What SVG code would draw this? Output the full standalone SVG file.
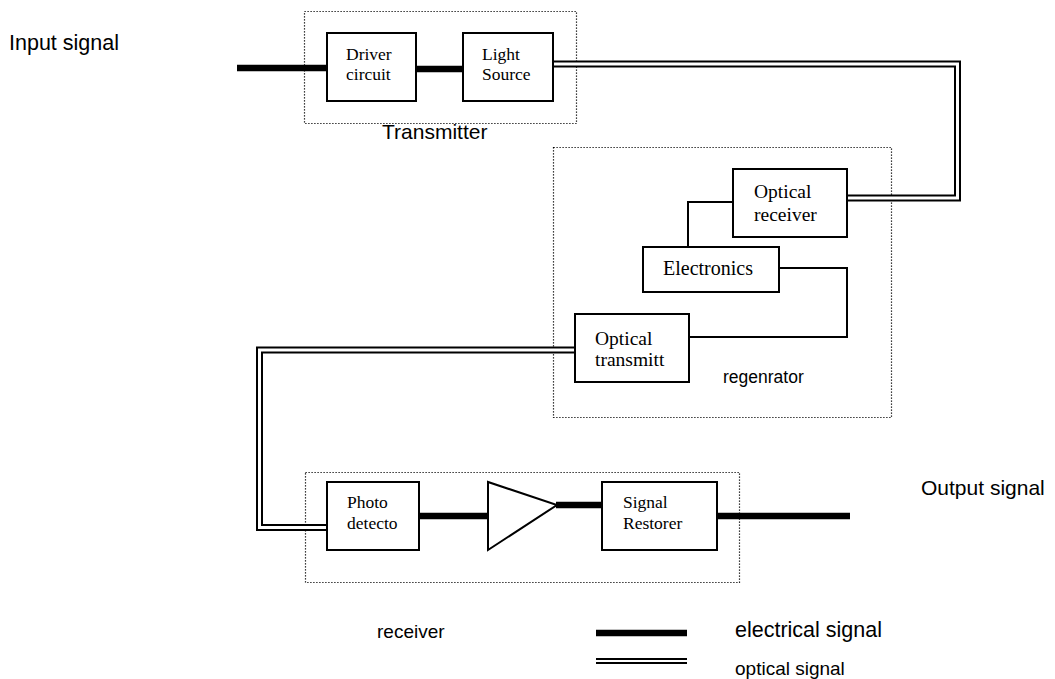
<svg xmlns="http://www.w3.org/2000/svg" width="1055" height="679" viewBox="0 0 1055 679">
<style>
.box{fill:#fff;stroke:#000;stroke-width:2}
.dot{fill:none;stroke:#000;stroke-width:1.2;stroke-dasharray:1.2,1.8}
.elec{fill:none;stroke:#000;stroke-width:6.5}
.wire{fill:none;stroke:#000;stroke-width:2}
.optO{fill:none;stroke:#000;stroke-width:7;stroke-linejoin:miter}
.optI{fill:none;stroke:#fff;stroke-width:3;stroke-linejoin:miter}
.tm{font-family:"Liberation Serif","Times New Roman",serif;fill:#000}
.sn{font-family:"Liberation Sans",Arial,sans-serif;fill:#000}
</style>
<rect width="1055" height="679" fill="#fff"/>
<g id="groups">
<rect class="dot" x="304.5" y="11.5" width="272" height="112"/>
<rect class="dot" x="553.5" y="147.5" width="338" height="270"/>
<rect class="dot" x="305.5" y="472.5" width="434" height="110"/>
</g>
<g id="connectors">
<line class="elec" x1="237" y1="68" x2="327" y2="68"/>
<line class="elec" x1="416" y1="69" x2="463" y2="69"/>
<path class="optO" d="M553,64 H957.5 V198 H847"/>
<path class="optI" d="M553,64 H957.5 V198 H847"/>
<path class="wire" d="M733,202 H688 V247"/>
<path class="wire" d="M779,268 H847 V337 H689"/>
<path class="optO" d="M575,350 H259.5 V527.5 H327"/>
<path class="optI" d="M575,350 H259.5 V527.5 H327"/>
<line class="elec" x1="419" y1="516" x2="488" y2="516"/>
<line class="elec" x1="556" y1="505" x2="602" y2="505"/>
<line class="elec" x1="717" y1="516" x2="850" y2="516"/>
</g>
<g id="driver">
<rect class="box" x="327" y="33" width="89" height="68"/>
<text class="tm" font-size="17.5" x="346" y="60">Driver</text>
<text class="tm" font-size="17.5" x="346" y="80">circuit</text>
</g>
<g id="light-source">
<rect class="box" x="463" y="33" width="90" height="68"/>
<text class="tm" font-size="17.5" x="482" y="60">Light</text>
<text class="tm" font-size="17.5" x="482" y="80">Source</text>
</g>
<g id="optical-receiver">
<rect class="box" x="733" y="169" width="114" height="68"/>
<text class="tm" font-size="19.5" x="754" y="198">Optical</text>
<text class="tm" font-size="19.5" x="754" y="221">receiver</text>
</g>
<g id="electronics">
<rect class="box" x="643" y="247" width="136" height="45"/>
<text class="tm" font-size="20" x="663" y="275">Electronics</text>
</g>
<g id="optical-transmitter">
<rect class="box" x="575" y="314" width="114" height="68"/>
<text class="tm" font-size="19.5" x="595" y="345">Optical</text>
<text class="tm" font-size="19.5" x="595" y="366">transmitt</text>
</g>
<g id="photo-detector">
<rect class="box" x="327" y="482" width="92" height="68"/>
<text class="tm" font-size="17.5" x="347" y="508">Photo</text>
<text class="tm" font-size="17.5" x="347" y="529">detecto</text>
</g>
<g id="amplifier">
<polygon class="box" points="488,482 488,550 557,505"/>
</g>
<g id="signal-restorer">
<rect class="box" x="602" y="482" width="115" height="68"/>
<text class="tm" font-size="17.5" x="623" y="508">Signal</text>
<text class="tm" font-size="17.5" x="623" y="529">Restorer</text>
</g>
<g id="labels">
<text class="sn" font-size="21.5" x="9" y="50">Input signal</text>
<text class="sn" font-size="21" x="382" y="139">Transmitter</text>
<text class="sn" font-size="17.5" x="723" y="383">regenrator</text>
<text class="sn" font-size="21" x="921" y="495">Output signal</text>
<text class="sn" font-size="19" x="377" y="638">receiver</text>
</g>
<g id="legend">
<line class="elec" x1="596" y1="633" x2="687" y2="633"/>
<line x1="596" y1="661" x2="687" y2="661" stroke="#000" stroke-width="6"/>
<line x1="596" y1="661" x2="687" y2="661" stroke="#fff" stroke-width="2"/>
<text class="sn" font-size="21.5" x="735" y="637">electrical signal</text>
<text class="sn" font-size="19" x="735" y="675">optical signal</text>
</g>
</svg>
